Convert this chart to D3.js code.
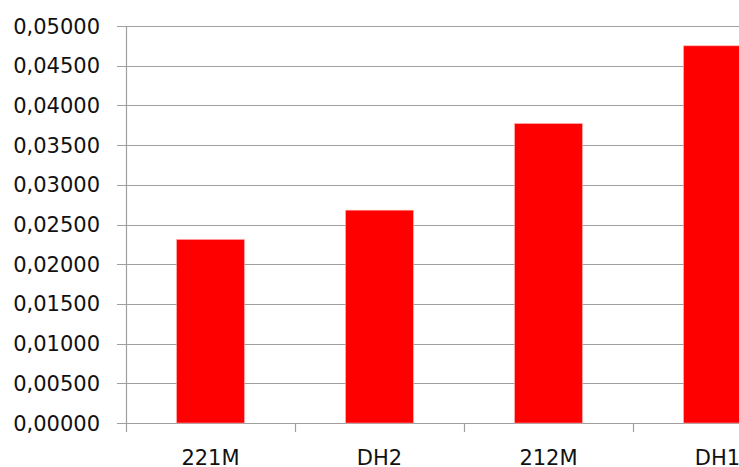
<!DOCTYPE html>
<html>
<head>
<meta charset="utf-8">
<script src="https://cdn.jsdelivr.net/npm/d3@7"></script>
<style>
  html, body { margin: 0; padding: 0; background: #fff; }
  svg { display: block; }
  text { font-family: "DejaVu Sans", Verdana, sans-serif; fill: #111; }
</style>
</head>
<body>
<svg id="chart" width="739" height="467"></svg>
<script>
// Sample categories and their measured values
const categories = ["221M", "DH2", "212M", "DH1"];
const values = [0.0231, 0.0268, 0.0377, 0.0475];
const yTicks = [0, 0.005, 0.01, 0.015, 0.02, 0.025, 0.03, 0.035, 0.04, 0.045, 0.05];

const svg = d3.select("#chart");
const plot = { left: 126, top: 26, bottom: 423, right: 802 };

const x = d3.scaleBand()
  .domain(categories)
  .range([plot.left, plot.right])
  .paddingInner(0.6)
  .paddingOuter(0.3);

const y = d3.scaleLinear()
  .domain([0, 0.05])
  .range([plot.bottom, plot.top]);

const fmt = v => d3.format(".5f")(v).replace(".", ",");

// Horizontal gridlines with short ticks left of the axis
svg.append("g")
  .selectAll("line")
  .data(yTicks)
  .join("line")
  .attr("x1", plot.left - 9)
  .attr("x2", 739)
  .attr("y1", d => Math.round(y(d)) + 0.5)
  .attr("y2", d => Math.round(y(d)) + 0.5)
  .attr("stroke", "#a0a0a0")
  .attr("stroke-width", 1.2);

// Y-axis labels
svg.append("g")
  .selectAll("text")
  .data(yTicks)
  .join("text")
  .attr("x", 100)
  .attr("y", d => y(d))
  .attr("dy", "0.36em")
  .attr("text-anchor", "end")
  .attr("font-size", 21)
  .text(fmt);

// Bars
svg.append("g")
  .selectAll("rect")
  .data(values)
  .join("rect")
  .attr("x", (d, i) => x(categories[i]))
  .attr("width", x.bandwidth())
  .attr("y", d => y(d))
  .attr("height", d => y(0) - y(d))
  .attr("fill", "#ff0000")
  .attr("stroke", "#ff9a9a")
  .attr("stroke-width", 0.6);

// Vertical axis line
svg.append("line")
  .attr("x1", plot.left + 0.5).attr("x2", plot.left + 0.5)
  .attr("y1", plot.top).attr("y2", plot.bottom + 1)
  .attr("stroke", "#a0a0a0").attr("stroke-width", 1.2);

// Category boundary ticks under the baseline
const step = x.step();
const bounds = d3.range(categories.length + 1).map(i => plot.left + i * step);
svg.append("g")
  .selectAll("line")
  .data(bounds)
  .join("line")
  .attr("x1", d => Math.round(d) + 0.5)
  .attr("x2", d => Math.round(d) + 0.5)
  .attr("y1", plot.bottom)
  .attr("y2", plot.bottom + 9)
  .attr("stroke", "#a0a0a0")
  .attr("stroke-width", 1.2);

// Category labels
svg.append("g")
  .selectAll("text")
  .data(categories)
  .join("text")
  .attr("x", d => x(d) + x.bandwidth() / 2)
  .attr("y", 465)
  .attr("text-anchor", "middle")
  .attr("font-size", 21)
  .text(d => d);
</script>
</body>
</html>
